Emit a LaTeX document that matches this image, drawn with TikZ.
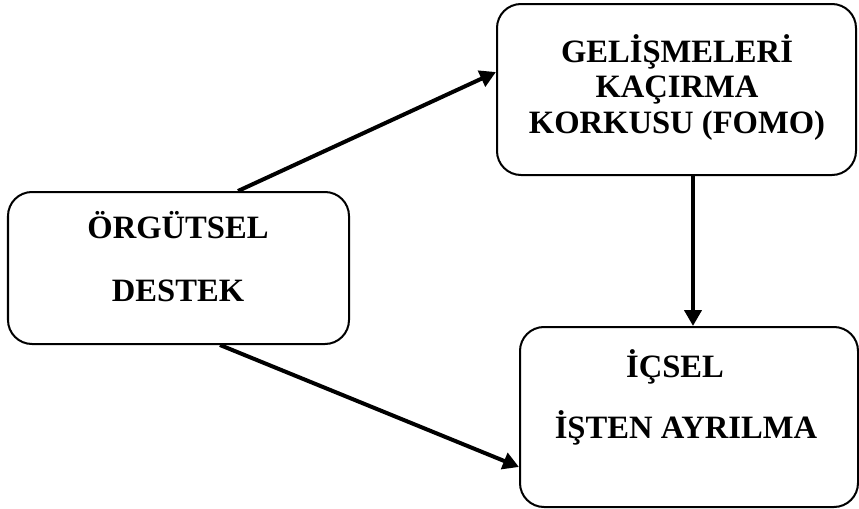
\documentclass[tikz,border=0pt]{standalone}
\usepackage{fontspec}
\setmainfont{Liberation Serif}
\usetikzlibrary{arrows.meta}

\tikzstyle{box} = [draw, line width=1pt, rounded corners=12pt, inner sep=0pt]
\tikzstyle{boxtext} = [anchor=base, inner sep=0pt, font=\fontsize{16.3}{18}\selectfont\bfseries]
\tikzstyle{conn} = [line width=2pt, -{Triangle[length=8pt,width=8.5pt]}]

\begin{document}
\begin{tikzpicture}[x=0.5pt, y=-0.5pt]
\useasboundingbox (0,0) rectangle (859,509);
\node[box, minimum width=170.5pt, minimum height=76pt] (destek) at (178.5,268) {};
\node[boxtext] (destek1) at (178,238) {ÖRGÜTSEL};
\node[boxtext] (destek2) at (178,301) {DESTEK};

\node[box, minimum width=179.5pt, minimum height=85.5pt] (fomo) at (676.5,89.5) {};
\node[boxtext] (fomo1) at (677,62) {GELİŞMELERİ};
\node[boxtext] (fomo2) at (677,97) {KAÇIRMA};
\node[boxtext] (fomo3) at (677,133) {KORKUSU (FOMO)};

\node[box, minimum width=169pt, minimum height=90pt] (icsel) at (689,417) {};
\node[boxtext] (icsel1) at (675,377) {İÇSEL};
\node[boxtext] (icsel2) at (686,438) {İŞTEN AYRILMA};

\draw[conn] ([xshift=29.75pt]destek.north) -- ([yshift=8.75pt]fomo.west);
\draw[conn] ([xshift=8.25pt]fomo.south) -- ([xshift=8.25pt]fomo.south |- icsel.north);
\draw[conn] ([xshift=20.75pt]destek.south) -- ([yshift=-25pt]icsel.west);
\end{tikzpicture}
\end{document}
